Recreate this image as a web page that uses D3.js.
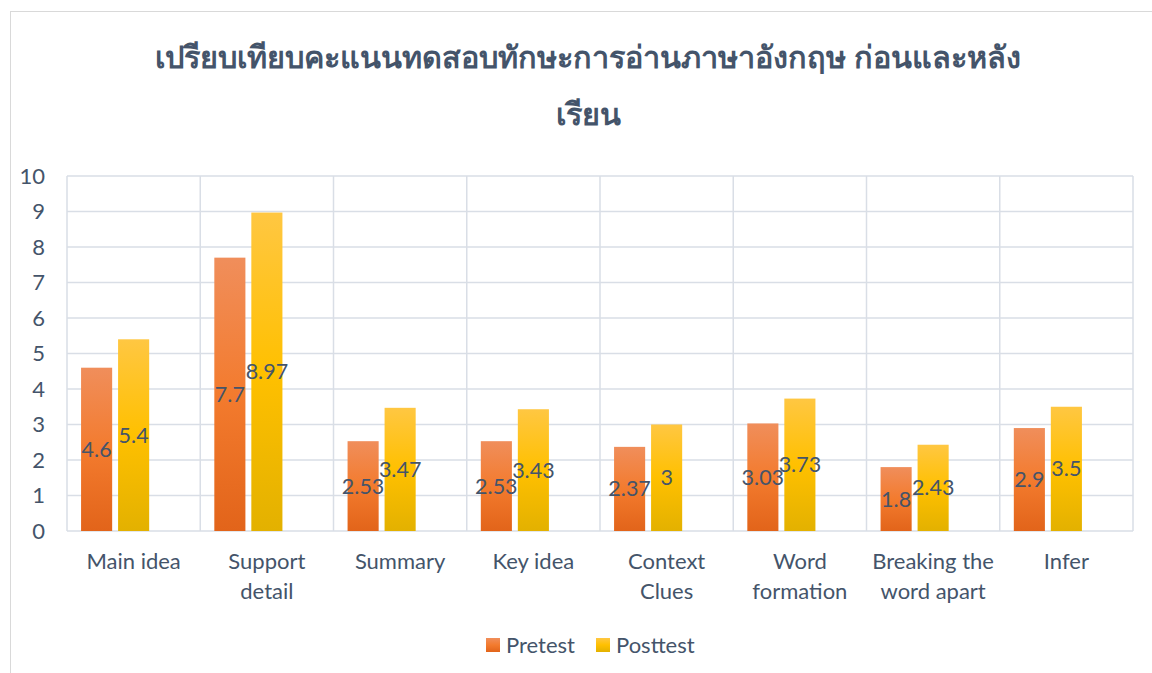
<!DOCTYPE html>
<html>
<head>
<meta charset="utf-8">
<script src="https://cdn.jsdelivr.net/npm/d3@7"></script>
<style>
  body { margin: 0; background: #fff; }
  svg { display: block; font-family: Lato, "Open Sans", sans-serif; }
</style>
</head>
<body>
<svg id="drawing_region"></svg>
<script>
const titleLines = ["เปรียบเทียบคะแนนทดสอบทักษะการอ่านภาษาอังกฤษ ก่อนและหลัง", "เรียน"];
const categories = [
    ["Main idea"], ["Support", "detail"], ["Summary"], ["Key idea"],
    ["Context", "Clues"], ["Word", "formation"], ["Breaking the", "word apart"], ["Infer"]
];
const seriesNames = ["Pretest", "Posttest", ""];
const pretest  = [4.6, 7.7, 2.53, 2.53, 2.37, 3.03, 1.8, 2.9];
const posttest = [5.4, 8.97, 3.47, 3.43, 3, 3.73, 2.43, 3.5];
const yTicks = [0, 1, 2, 3, 4, 5, 6, 7, 8, 9, 10];

const textColor = "#44546A";
const gridColor = "#D9DEE6";

const cfg = {
    width: 1152, height: 673,
    margin: {top: 176, right: 19, bottom: 142, left: 67}
};

const svg = d3.select("#drawing_region")
    .attr("width", cfg.width)
    .attr("height", cfg.height);

// gradients
const defs = svg.append("defs");
const grads = [
    {id: "g0", stops: ["#F08E5B", "#F37B2E", "#E2641A"]},
    {id: "g1", stops: ["#FFC742", "#FFC000", "#E3B100"]}
];
grads.forEach(g => {
    const lg = defs.append("linearGradient")
        .attr("id", g.id)
        .attr("x1", 0).attr("y1", 0).attr("x2", 0).attr("y2", 1);
    lg.append("stop").attr("offset", "0%").attr("stop-color", g.stops[0]);
    lg.append("stop").attr("offset", "50%").attr("stop-color", g.stops[1]);
    lg.append("stop").attr("offset", "100%").attr("stop-color", g.stops[2]);
});

// outer border
svg.append("rect")
    .attr("x", 10.5).attr("y", 11.5)
    .attr("width", 1160).attr("height", 700)
    .attr("fill", "none")
    .attr("stroke", "#D9D9D9");

// title
svg.append("g")
    .selectAll("text")
    .data(titleLines)
    .join("text")
    .attr("x", 588)
    .attr("y", (d, i) => 68 + i * 57)
    .attr("text-anchor", "middle")
    .attr("fill", textColor)
    .attr("font-size", 30.6)
    .attr("font-weight", "bold")
    .text(d => d);

const innerW = cfg.width - cfg.margin.left - cfg.margin.right;
const innerH = cfg.height - cfg.margin.top - cfg.margin.bottom;

const chart = svg.append("g")
    .attr("transform", `translate(${cfg.margin.left},${cfg.margin.top})`);

const x0 = d3.scaleBand()
    .domain(d3.range(categories.length))
    .range([0, innerW]);

const x1 = d3.scaleBand()
    .domain(seriesNames.map((d, i) => i))
    .range([0, x0.bandwidth()])
    .paddingInner(0.16)
    .paddingOuter(0.38);

const y = d3.scaleLinear().domain([0, 10]).range([innerH, 0]);

// horizontal gridlines
chart.append("g")
    .selectAll("line")
    .data(yTicks)
    .join("line")
    .attr("x1", 0).attr("x2", innerW)
    .attr("y1", d => y(d)).attr("y2", d => y(d))
    .attr("stroke", gridColor)
    .attr("stroke-width", 1.5);

// vertical gridlines
chart.append("g")
    .selectAll("line")
    .data(d3.range(categories.length + 1))
    .join("line")
    .attr("x1", d => d * x0.step()).attr("x2", d => d * x0.step())
    .attr("y1", 0).attr("y2", innerH)
    .attr("stroke", gridColor)
    .attr("stroke-width", 1.5);

// y axis labels
chart.append("g")
    .selectAll("text")
    .data(yTicks)
    .join("text")
    .attr("x", -22)
    .attr("y", d => y(d))
    .attr("dy", "0.35em")
    .attr("text-anchor", "end")
    .attr("fill", textColor)
    .attr("font-size", 22)
    .text(d => d);

// bars
const series = [pretest, posttest];
const barData = [];
categories.forEach((c, i) => {
    series.forEach((s, j) => barData.push({cat: i, s: j, v: s[i]}));
});

chart.append("g")
    .selectAll("rect")
    .data(barData)
    .join("rect")
    .attr("x", d => x0(d.cat) + x1(d.s))
    .attr("y", d => y(d.v))
    .attr("width", x1.bandwidth())
    .attr("height", d => innerH - y(d.v))
    .attr("fill", d => `url(#g${d.s})`);

// value labels
chart.append("g")
    .selectAll("text")
    .data(barData)
    .join("text")
    .attr("x", d => x0(d.cat) + x1(d.s) + x1.bandwidth() / 2)
    .attr("y", d => (y(d.v) + innerH) / 2)
    .attr("dy", "0.35em")
    .attr("text-anchor", "middle")
    .attr("fill", textColor)
    .attr("font-size", 21.5)
    .text(d => d.v);

// category labels
const catG = chart.append("g")
    .selectAll("text")
    .data(categories)
    .join("text")
    .attr("x", (d, i) => x0(i) + x0.bandwidth() / 2)
    .attr("y", innerH + 38)
    .attr("text-anchor", "middle")
    .attr("fill", textColor)
    .attr("font-size", 22);

catG.selectAll("tspan")
    .data(d => d)
    .join("tspan")
    .attr("x", function() { return d3.select(this.parentNode).attr("x"); })
    .attr("dy", (d, i) => i === 0 ? 0 : 30)
    .text(d => d);

// legend
const legendItems = [
    {name: seriesNames[0], x: 486, fill: "url(#g0)"},
    {name: seriesNames[1], x: 596, fill: "url(#g1)"}
];
const legend = svg.append("g")
    .selectAll("g")
    .data(legendItems)
    .join("g")
    .attr("transform", d => `translate(${d.x},638)`);

legend.append("rect")
    .attr("width", 14).attr("height", 14)
    .attr("fill", d => d.fill);

legend.append("text")
    .attr("x", 20)
    .attr("y", 7)
    .attr("dy", "0.35em")
    .attr("fill", textColor)
    .attr("font-size", 22)
    .text(d => d.name);
</script>
</body>
</html>
